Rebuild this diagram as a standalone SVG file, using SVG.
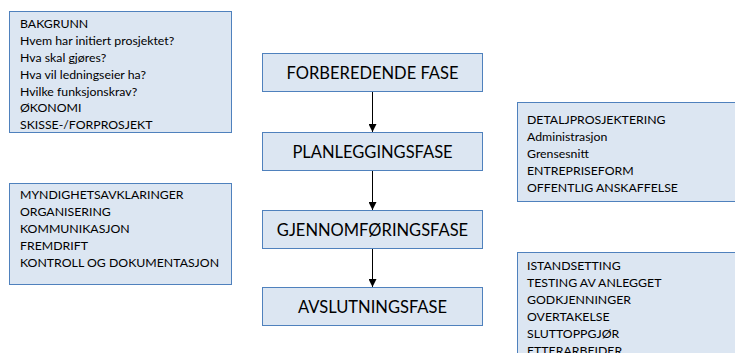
<svg xmlns="http://www.w3.org/2000/svg" width="735" height="353" viewBox="0 0 735 353">
  <defs>
    <style>
      .box { fill: #dce6f2; stroke: #4f81bd; stroke-width: 1; }
      .list { font-family: Lato, "Liberation Sans", sans-serif; font-size: 12.3px; fill: #000; }
      .phase { font-family: Lato, "Liberation Sans", sans-serif; font-size: 16.5px; fill: #000; text-anchor: middle; }
      .conn { stroke: #000; stroke-width: 1; fill: none; marker-end: url(#arrow); }
    </style>
    <marker id="arrow" viewBox="0 0 8 8" refX="8" refY="4" markerWidth="8" markerHeight="8" markerUnits="userSpaceOnUse" orient="auto">
      <path d="M0,0 L8,4 L0,8 Z" fill="#000"/>
    </marker>
  </defs>
  <rect width="735" height="353" fill="#ffffff"/>

  <!-- Left column: notes -->
  <g id="bakgrunn">
    <rect class="box" x="9.5" y="11.5" width="222" height="121"/>
    <text class="list" x="20" y="28">BAKGRUNN</text>
    <text class="list" x="20" y="45">Hvem har initiert prosjektet?</text>
    <text class="list" x="20" y="62">Hva skal gjøres?</text>
    <text class="list" x="20" y="78.5">Hva vil ledningseier ha?</text>
    <text class="list" x="20" y="95.5">Hvilke funksjonskrav?</text>
    <text class="list" x="20" y="112">ØKONOMI</text>
    <text class="list" x="20" y="129">SKISSE-/FORPROSJEKT</text>
  </g>

  <g id="myndighet">
    <rect class="box" x="9.5" y="183.5" width="222" height="101"/>
    <text class="list" x="20" y="199">MYNDIGHETSAVKLARINGER</text>
    <text class="list" x="20" y="216">ORGANISERING</text>
    <text class="list" x="20" y="233">KOMMUNIKASJON</text>
    <text class="list" x="20" y="250">FREMDRIFT</text>
    <text class="list" x="20" y="267">KONTROLL OG DOKUMENTASJON</text>
  </g>

  <!-- Centre column: phases -->
  <g id="forberedende">
    <rect class="box" x="262.5" y="53.5" width="220" height="38"/>
    <text class="phase" x="372.5" y="79">FORBEREDENDE FASE</text>
  </g>
  <g id="planlegging">
    <rect class="box" x="262.5" y="132.5" width="220" height="38"/>
    <text class="phase" x="372.5" y="158">PLANLEGGINGSFASE</text>
  </g>
  <g id="gjennomforing">
    <rect class="box" x="262.5" y="210.5" width="220" height="38"/>
    <text class="phase" x="372.5" y="236">GJENNOMFØRINGSFASE</text>
  </g>
  <g id="avslutning">
    <rect class="box" x="262.5" y="287.5" width="220" height="38"/>
    <text class="phase" x="372.5" y="313">AVSLUTNINGSFASE</text>
  </g>

  <!-- Right column: notes -->
  <g id="detaljprosjektering">
    <rect class="box" x="517.5" y="102.5" width="230" height="99"/>
    <text class="list" x="527" y="124">DETALJPROSJEKTERING</text>
    <text class="list" x="527" y="141">Administrasjon</text>
    <text class="list" x="527" y="158">Grensesnitt</text>
    <text class="list" x="527" y="175">ENTREPRISEFORM</text>
    <text class="list" x="527" y="191.5">OFFENTLIG ANSKAFFELSE</text>
  </g>

  <g id="istandsetting">
    <rect class="box" x="517.5" y="252.5" width="230" height="120"/>
    <text class="list" x="527" y="270">ISTANDSETTING</text>
    <text class="list" x="527" y="287">TESTING AV ANLEGGET</text>
    <text class="list" x="527" y="304">GODKJENNINGER</text>
    <text class="list" x="527" y="321">OVERTAKELSE</text>
    <text class="list" x="527" y="338">SLUTTOPPGJØR</text>
    <text class="list" x="527" y="355">ETTERARBEIDER</text>
  </g>

  <!-- Connectors between phases -->
  <g id="connectors">
    <line class="conn" x1="372.5" y1="92" x2="372.5" y2="132"/>
    <line class="conn" x1="372.5" y1="171" x2="372.5" y2="210"/>
    <line class="conn" x1="372.5" y1="249" x2="372.5" y2="287"/>
  </g>
</svg>
